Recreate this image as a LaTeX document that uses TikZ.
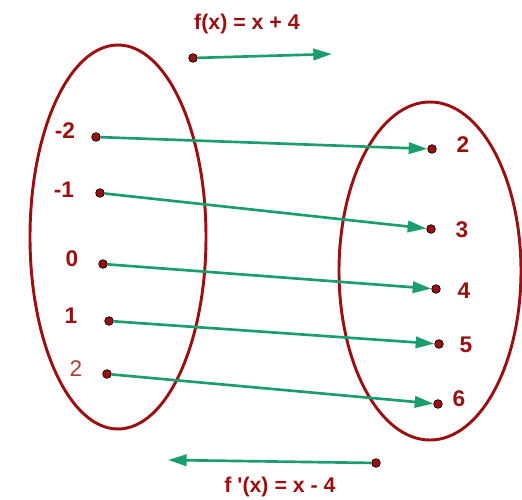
\documentclass[tikz,border=0pt]{standalone}
\usepackage{fontspec}
\setmainfont{Liberation Sans}
\usetikzlibrary{arrows.meta}
\definecolor{dred}{HTML}{9A1010}
\definecolor{lred}{HTML}{B03A3A}
\definecolor{grn}{HTML}{1A9E6E}
\tikzset{
  pt/.style={circle,draw=black,fill=dred,line width=0.5pt,inner sep=0pt,minimum size=6.5pt},
  num/.style={text=dred,font=\bfseries\fontsize{17}{20}\selectfont,inner sep=0pt},
  ttl/.style={text=dred,font=\bfseries\fontsize{16}{19}\selectfont,inner sep=0pt},
  arr/.style={draw=grn,line width=2pt,-{Triangle[length=14pt,width=8.5pt]}},
  oval/.style={draw=dred,line width=2.2pt}
}
\begin{document}
\begin{tikzpicture}[x=0.75pt,y=-0.75pt]
\useasboundingbox (0,0) rectangle (522,500);
\draw[oval] (118,237) ellipse [x radius=88,y radius=192];
\draw[oval] (430,271) ellipse [x radius=91,y radius=169];
% left points
\node[pt] (l1) at (96,137) {};
\node[pt] (l2) at (100,193) {};
\node[pt] (l3) at (103,264) {};
\node[pt] (l4) at (109,321) {};
\node[pt] (l5) at (107,374) {};
% right points
\node[pt] (r1) at (432,149) {};
\node[pt] (r2) at (431,229) {};
\node[pt] (r3) at (436,289) {};
\node[pt] (r4) at (439,344) {};
\node[pt] (r5) at (438,404) {};
% labels
\node[num] (t1) at (65,131) {-2};
\node[num] (t2) at (64,190) {-1};
\node[num] (t3) at (72,259) {0};
\node[num] (t4) at (71,316) {1};
\node[text=lred,font=\fontsize{17}{20}\selectfont,inner sep=0pt] (t5) at (76,369) {2};
\node[num] (s1) at (463,145) {2};
\node[num] (s2) at (462,230) {3};
\node[num] (s3) at (464,291) {4};
\node[num] (s4) at (466,345) {5};
\node[num] (s5) at (459,399) {6};
% arrows
\foreach \i in {1,...,5} {\draw[arr] (l\i) -- (r\i);}
% top
\node[ttl] (f) at (247,24) {f(x) = x + 4};
\node[pt] (fa) at (193,58) {};
\coordinate (fb) at (332,54);
\draw[arr] (fa) -- (fb);
% bottom
\node[ttl] (g) at (280,487) {f \textquotesingle(x) = x - 4};
\node[pt] (ga) at (376,463) {};
\coordinate (gb) at (168,460);
\draw[arr] (ga) -- (gb);
\end{tikzpicture}
\end{document}
